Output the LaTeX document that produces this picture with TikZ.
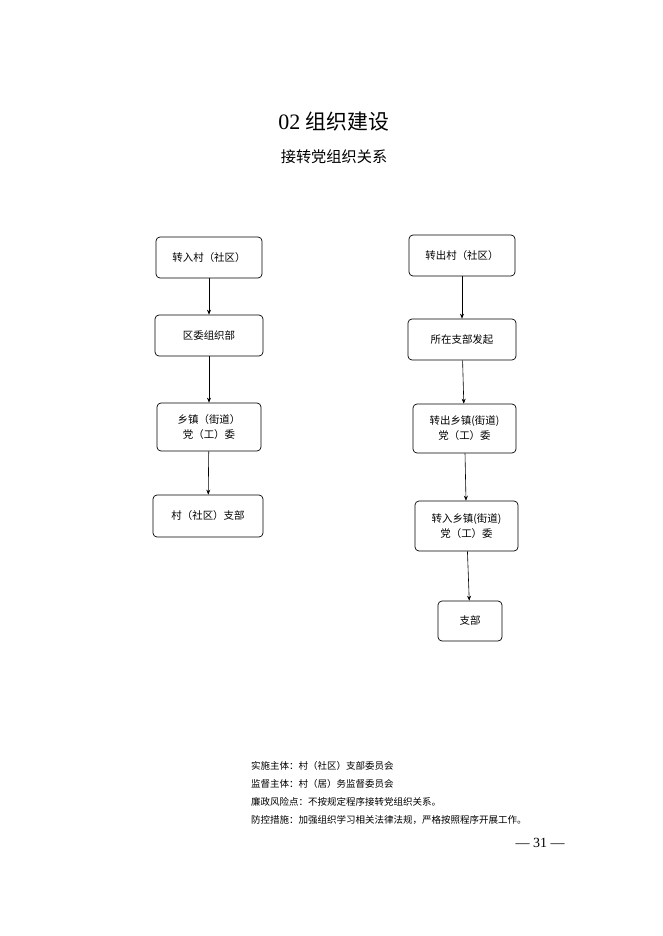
\documentclass[tikz,border=0pt]{standalone}
\usepackage{fontspec}
\setmainfont{Liberation Serif}
\newfontfamily\cjk{Noto Sans CJK SC}[Scale=0.95]
\usetikzlibrary{arrows.meta}
\begin{document}
\begin{tikzpicture}[x=1pt,y=-1pt,
  box/.style={draw,rounded corners=4pt,line width=0.7pt,align=center,font=\cjk\fontsize{11}{15}\selectfont,inner sep=0pt},
  arr/.style={-{Stealth[length=5pt,width=4pt]},line width=0.6pt}]
\useasboundingbox (0,0) rectangle (662,936);
\node[font=\fontsize{22}{26}\selectfont] (t) at (334,122) {02 {\cjk 组织建设}};
\node[font=\cjk\fontsize{16}{20}\selectfont] (st) at (334,157) {接转党组织关系};
% left
\node[box,minimum width=106pt,minimum height=41pt] (l1) at (209,257.5) {转入村（社区）};
\node[box,minimum width=108pt,minimum height=41pt] (l2) at (209,335.5) {区委组织部};
\node[box,minimum width=104pt,minimum height=48pt] (l3) at (209,427) {乡镇（街道）\\党（工）委};
\node[box,minimum width=110pt,minimum height=42pt] (l4) at (208,516) {村（社区）支部};
% right
\node[box,minimum width=106pt,minimum height=41pt] (r1) at (462,255.5) {转出村（社区）};
\node[box,minimum width=108pt,minimum height=41pt] (r2) at (462,339.5) {所在支部发起};
\node[box,minimum width=103pt,minimum height=49pt] (r3) at (464.5,428.5) {转出乡镇(街道)\\党（工）委};
\node[box,minimum width=103pt,minimum height=50pt] (r4) at (466.5,526) {转入乡镇(街道)\\党（工）委};
\node[box,minimum width=64pt,minimum height=40pt] (r5) at (470,621) {支部};
\draw[arr] (l1) -- (l2);
\draw[arr] (l2) -- (l3);
\draw[arr] (l3) -- (l4);
\draw[arr] (r1) -- (r2);
\draw[arr] (r2) -- (r3);
\draw[arr] (r3) -- (r4);
\draw[arr] (r4) -- (r5);
\begin{scope}[every node/.style={anchor=west,font=\cjk\fontsize{10}{12}\selectfont,inner sep=0pt}]
\node (f1) at (251,766) {实施主体：村（社区）支部委员会};
\node (f2) at (251,784) {监督主体：村（居）务监督委员会};
\node (f3) at (251,802) {廉政风险点：不按规定程序接转党组织关系。};
\node (f4) at (251,820) {防控措施：加强组织学习相关法律法规，严格按照程序开展工作。};
\end{scope}
\node[font=\fontsize{14}{16}\selectfont] (pg) at (540,843) {— 31 —};
\end{tikzpicture}
\end{document}
